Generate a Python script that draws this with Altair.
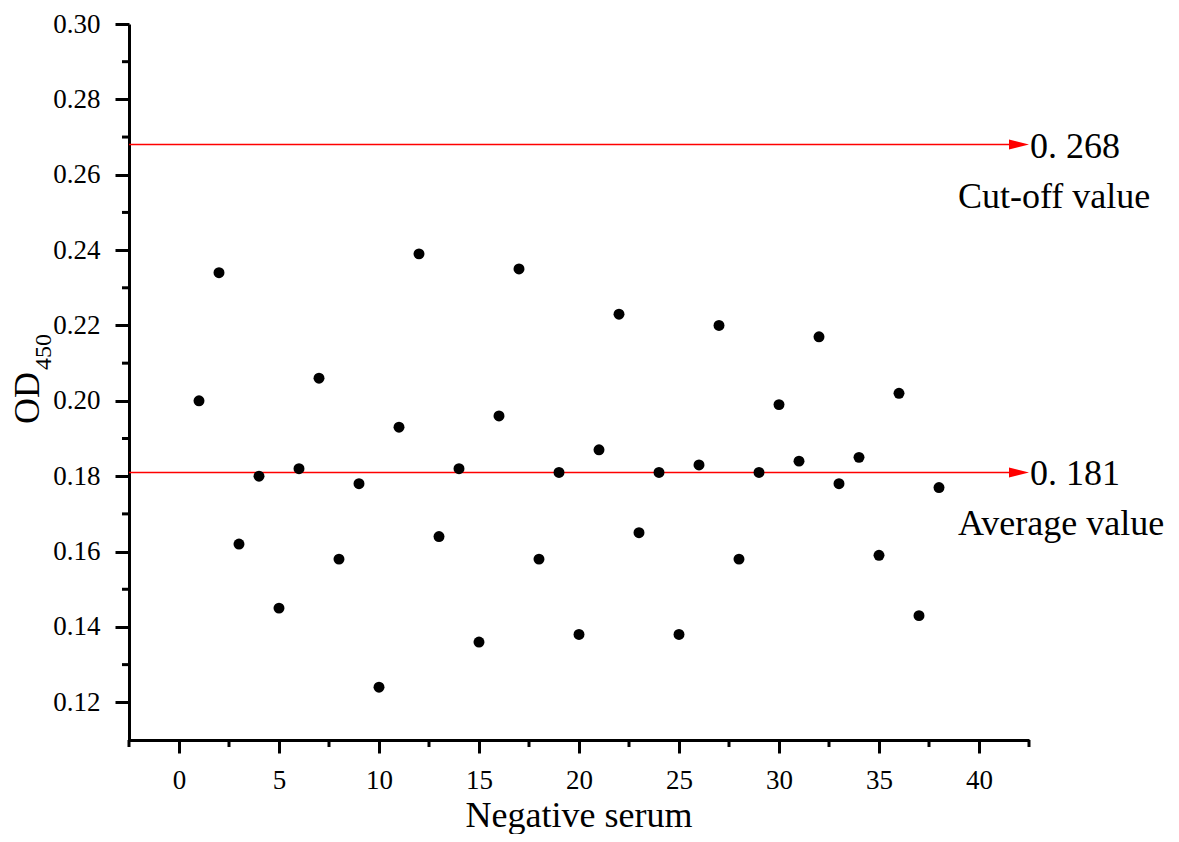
import altair as alt
import pandas as pd

# ---- data ----
serum = list(range(1, 39))
od450 = [0.200, 0.234, 0.162, 0.180, 0.145, 0.182, 0.206, 0.158, 0.178, 0.124,
         0.193, 0.239, 0.164, 0.182, 0.136, 0.196, 0.235, 0.158, 0.181, 0.138,
         0.187, 0.223, 0.165, 0.181, 0.138, 0.183, 0.220, 0.158, 0.181, 0.199,
         0.184, 0.217, 0.178, 0.185, 0.159, 0.202, 0.143, 0.177]

ref_values = [0.268, 0.181]
ref_numbers = ["0. 268", "0. 181"]
ref_names = ["Cut-off value", "Average value"]

x_major = [0, 5, 10, 15, 20, 25, 30, 35, 40]
x_minor = [-2.5, 2.5, 7.5, 12.5, 17.5, 22.5, 27.5, 32.5, 37.5, 42.5]
y_major = [0.12, 0.14, 0.16, 0.18, 0.20, 0.22, 0.24, 0.26, 0.28, 0.30]
y_minor = [0.13, 0.15, 0.17, 0.19, 0.21, 0.23, 0.25, 0.27, 0.29]

x_domain = [-2.5, 42.5]
y_domain = [0.11, 0.30]
line_start = -2.5
arrow_x = 42.0
text_x = 42.5

FONT = "Liberation Serif"
W, H = 900, 716

pts = pd.DataFrame({"serum": serum, "od": od450})
refs = pd.DataFrame({"v": ref_values, "num": ref_numbers, "name": ref_names,
                     "x0": [line_start] * 2, "xe": [arrow_x] * 2, "xt": [text_x] * 2})

xs = alt.Scale(domain=x_domain, nice=False, zero=False)
ys = alt.Scale(domain=y_domain, nice=False, zero=False)

points = alt.Chart(pts).mark_circle(size=120, color="black", opacity=1).encode(
    x=alt.X("serum:Q", scale=xs,
            axis=alt.Axis(values=x_major, title=None, tickSize=13, labelPadding=14,
                          grid=False, labelFlush=False)),
    y=alt.Y("od:Q", scale=ys,
            axis=alt.Axis(values=y_major, format=".2f", title=None, tickSize=14,
                          labelPadding=15, grid=False, labelFlush=False)),
)

minor_y = alt.Chart(pd.DataFrame({"y": y_minor})).mark_rule(
    color="black", strokeWidth=3).encode(
    y=alt.Y("y:Q", scale=ys), x=alt.value(-7), x2=alt.value(0))

minor_x = alt.Chart(pd.DataFrame({"x": x_minor})).mark_rule(
    color="black", strokeWidth=3).encode(
    x=alt.X("x:Q", scale=xs), y=alt.value(H), y2=alt.value(H + 7))

ref_lines = alt.Chart(refs).mark_rule(color="#ff0000", strokeWidth=1.5).encode(
    y=alt.Y("v:Q", scale=ys), x=alt.X("x0:Q", scale=xs), x2=alt.X2("xe"))

arrows = alt.Chart(refs).mark_point(
    shape="M-1,-0.5L1,0L-1,0.5Z", size=400, filled=True, color="#ff0000",
    opacity=1, strokeWidth=0).encode(
    x=alt.X("xe:Q", scale=xs), y=alt.Y("v:Q", scale=ys))

nums = alt.Chart(refs).mark_text(
    font=FONT, fontSize=36, color="black", align="left", baseline="alphabetic",
    dx=1, dy=13).encode(
    x=alt.X("xt:Q", scale=xs), y=alt.Y("v:Q", scale=ys), text="num:N")

names = alt.Chart(refs).mark_text(
    font=FONT, fontSize=36, color="black", align="left", baseline="alphabetic",
    dy=63).encode(
    x=alt.value(829), y=alt.Y("v:Q", scale=ys), text="name:N")

x_title = alt.Chart(pd.DataFrame({"t": ["Negative serum"]})).mark_text(
    font=FONT, fontSize=36, color="black", align="center", baseline="alphabetic").encode(
    x=alt.value(450), y=alt.value(803), text="t:N")

y_title = alt.Chart(pd.DataFrame({"t": ["OD"]})).mark_text(
    font=FONT, fontSize=36, color="black", align="center", baseline="alphabetic",
    angle=270).encode(
    x=alt.value(-90), y=alt.value(374), text="t:N")

y_sub = alt.Chart(pd.DataFrame({"t": ["450"]})).mark_text(
    font=FONT, fontSize=24, color="black", align="center", baseline="alphabetic",
    angle=270).encode(
    x=alt.value(-78), y=alt.value(328), text="t:N")

chart = alt.layer(
    ref_lines, arrows, minor_y, minor_x, points, nums, names, x_title, y_title, y_sub
).properties(
    width=W, height=H,
    autosize=alt.AutoSizeParams(type="none"),
    padding={"left": 121, "top": 16, "right": 142, "bottom": 94},
    background="white",
).configure_view(stroke=None).configure_axis(
    domainColor="black", domainWidth=3, tickColor="black", tickWidth=3,
    labelFont=FONT, labelFontSize=27, labelColor="black",
)

chart.save("out.html", embed_options={"renderer": "svg", "actions": False})
